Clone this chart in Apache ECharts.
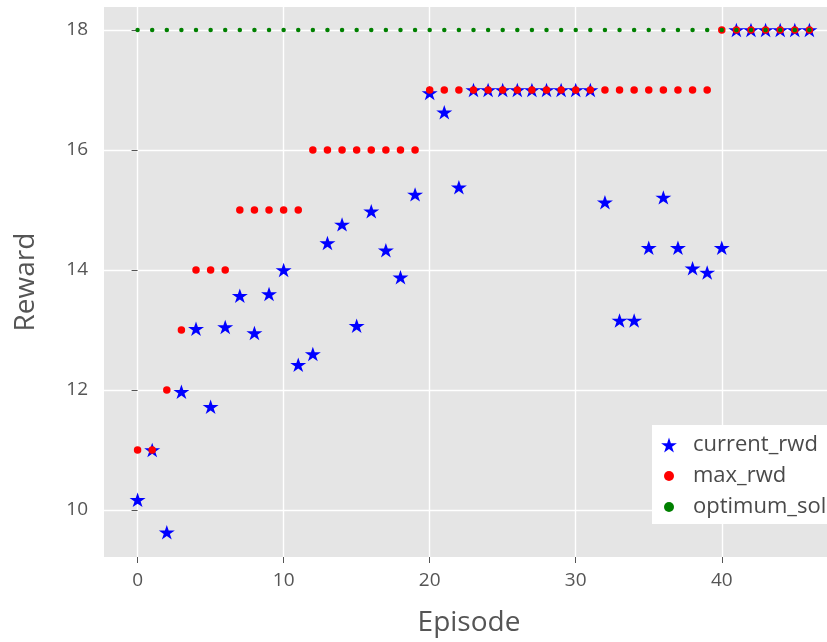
<!DOCTYPE html>
<html>
<head>
<meta charset="utf-8">
<script src="https://cdn.jsdelivr.net/npm/echarts@6/dist/echarts.min.js"></script>
<style>
  html, body { margin: 0; padding: 0; background: #fff; }
  #chart { width: 827px; height: 642px; }
</style>
</head>
<body>
<div id="chart"></div>
<script>
// episodes 0..46
const episodes = [0, 1, 2, 3, 4, 5, 6, 7, 8, 9, 10, 11, 12, 13, 14, 15, 16, 17, 18, 19, 20, 21, 22, 23,
  24, 25, 26, 27, 28, 29, 30, 31, 32, 33, 34, 35, 36, 37, 38, 39, 40, 41, 42, 43, 44, 45, 46];

// reward of the current episode
const currentRwd = [10.17, 11.0, 9.63, 11.97, 13.02, 11.72, 13.05, 13.57, 12.95, 13.6, 14.0, 12.42,
  12.6, 14.45, 14.76, 13.07, 14.98, 14.33, 13.88, 15.26, 16.95, 16.63, 15.38, 17, 17, 17, 17, 17, 17,
  17, 17, 17, 15.13, 13.16, 13.16, 14.37, 15.21, 14.37, 14.03, 13.96, 14.37, 18, 18, 18, 18, 18, 18];

// best reward so far
const maxRwd = [11, 11, 12, 13, 14, 14, 14, 15, 15, 15, 15, 15, 16, 16, 16, 16, 16, 16, 16, 16, 17, 17,
  17, 17, 17, 17, 17, 17, 17, 17, 17, 17, 17, 17, 17, 17, 17, 17, 17, 17, 18, 18, 18, 18, 18, 18, 18];

// optimum solution
const optimumSol = [18, 18, 18, 18, 18, 18, 18, 18, 18, 18, 18, 18, 18, 18, 18, 18, 18, 18, 18, 18, 18,
  18, 18, 18, 18, 18, 18, 18, 18, 18, 18, 18, 18, 18, 18, 18, 18, 18, 18, 18, 18, 18, 18, 18, 18, 18, 18];

const xTicks = [0, 10, 20, 30, 40];
const yTicks = [10, 12, 14, 16, 18];

const pair = (xs, ys) => xs.map((x, i) => [x, ys[i]]);

// matplotlib style "*" marker
const starPath = "path://M100 0 L122.45 69.1 L195.11 69.1 L136.33 111.8 L158.78 180.9 L100 138.2 " +
  "L41.22 180.9 L63.67 111.8 L4.89 69.1 L77.55 69.1 Z";
// dot inside a 16x15 box for the legend
const dotPath = "path://M0 0 M16 15 M3 7.5 A5 5 0 1 1 13 7.5 A5 5 0 1 1 3 7.5 Z";

const font = "'Open Sans', 'Noto Sans', sans-serif";
const chart = echarts.init(document.getElementById("chart"));

chart.setOption({
  animation: false,
  textStyle: { fontFamily: font },
  grid: {
    left: 104,
    top: 7,
    right: 0,
    height: 550,
    show: true,
    backgroundColor: "#E5E5E5",
    borderWidth: 0
  },
  legend: {
    orient: "vertical",
    left: 652,
    top: 425,
    backgroundColor: "#FFFFFF",
    padding: [9, 10, 6, 9],
    itemWidth: 16,
    itemHeight: 15,
    itemGap: 9,
    textStyle: { fontSize: 22, color: "#4a4a4a", fontFamily: font, padding: [0, 0, 0, 11] },
    data: [
      { name: "current_rwd", icon: starPath },
      { name: "max_rwd", icon: dotPath },
      { name: "optimum_sol", icon: dotPath }
    ]
  },
  xAxis: {
    type: "value",
    min: -2.3,
    max: 47.205,
    name: "Episode",
    nameLocation: "middle",
    nameGap: 52,
    nameTextStyle: { fontSize: 28, color: "#555", padding: [0, 0, 0, 7] },
    axisLine: { show: false },
    axisTick: {
      show: true,
      length: 6,
      lineStyle: { color: "#555" },
      customValues: xTicks
    },
    axisLabel: {
      fontSize: 19,
      color: "#555",
      margin: 14,
      customValues: xTicks
    },
    splitLine: { show: true, lineStyle: { color: "#FFFFFF", width: 1.4 } }
  },
  yAxis: {
    type: "value",
    min: 9.217,
    max: 18.383,
    name: "Reward",
    nameLocation: "middle",
    nameGap: 64,
    nameTextStyle: { fontSize: 28, color: "#555" },
    axisLine: { show: false },
    axisTick: {
      show: true,
      length: 6,
      lineStyle: { color: "#555" },
      customValues: yTicks
    },
    axisLabel: {
      fontSize: 19,
      color: "#555",
      margin: 16,
      customValues: yTicks
    },
    splitLine: { show: true, lineStyle: { color: "#FFFFFF", width: 1.4 } }
  },
  series: [
    {
      name: "current_rwd",
      type: "scatter",
      data: pair(episodes, currentRwd),
      symbol: starPath,
      symbolSize: [16, 15.2],
      symbolKeepAspect: true,
      itemStyle: { color: "#0000FF", opacity: 1 }
    },
    {
      name: "max_rwd",
      type: "scatter",
      data: pair(episodes, maxRwd),
      symbol: "circle",
      symbolSize: 7.5,
      itemStyle: { color: "#FF0000", opacity: 1 }
    },
    {
      name: "optimum_sol",
      type: "scatter",
      data: pair(episodes, optimumSol),
      symbol: "circle",
      symbolSize: 4.5,
      itemStyle: { color: "#008000", opacity: 1 }
    }
  ]
});
</script>
</body>
</html>
